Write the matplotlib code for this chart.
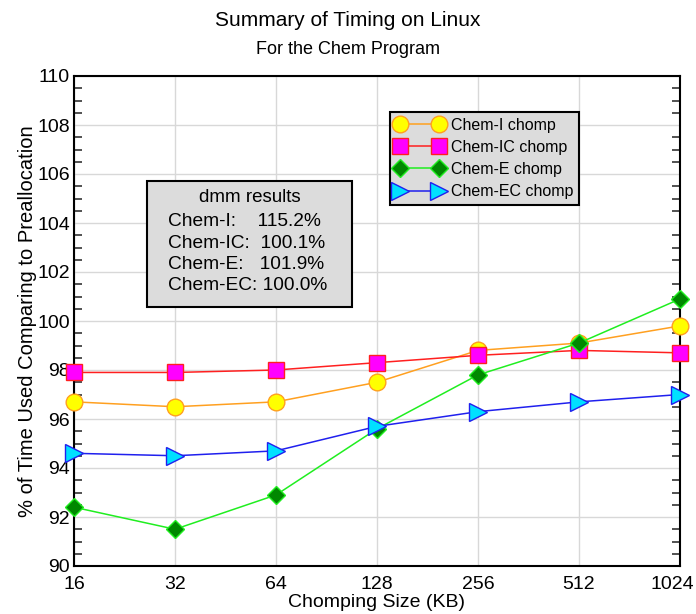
import matplotlib
matplotlib.use("Agg")
import matplotlib.pyplot as plt
import matplotlib.transforms as mtransforms
from matplotlib.ticker import MultipleLocator, FixedLocator, NullLocator

plt.rcParams['font.family'] = ['Liberation Sans', 'DejaVu Sans']

sizes = [16, 32, 64, 128, 256, 512, 1024]
chem_i = [96.7, 96.5, 96.7, 97.5, 98.8, 99.1, 99.8]
chem_ic = [97.9, 97.9, 98.0, 98.3, 98.6, 98.8, 98.7]
chem_e = [92.4, 91.5, 92.9, 95.6, 97.8, 99.1, 100.9]
chem_ec = [94.6, 94.5, 94.7, 95.7, 96.3, 96.7, 97.0]
series_labels = ["Chem-I chomp", "Chem-IC chomp", "Chem-E chomp", "Chem-EC chomp"]
dmm_lines = ["Chem-I:    115.2%", "Chem-IC:  100.1%", "Chem-E:   101.9%", "Chem-EC: 100.0%"]

fig = plt.figure(figsize=(6.96, 6.14), dpi=100)
ax = fig.add_axes([74/696, 48/614, 606/696, 490/614])

styles = [
    dict(color='#ffa020', marker='o', mfc='#ffff00', mec='#ffa020', ms=12),
    dict(color='#ff2020', marker='s', mfc='#ff00ff', mec='#ff2020', ms=11),
    dict(color='#20ee20', marker='D', mfc='#008800', mec='#20ee20', ms=9),
    dict(color='#2020ee', marker='>', mfc='#00e0ff', mec='#2020ee', ms=13),
]
for data, lab, st in zip([chem_i, chem_ic, chem_e, chem_ec], series_labels, styles):
    ax.plot(sizes, data, lw=1.1, label=lab, clip_on=False, zorder=5, mew=1.0, **st)

ax.set_xscale('log', base=2)
ax.set_xlim(16, 1024)
ax.set_ylim(90, 110)
ax.xaxis.set_major_locator(FixedLocator(sizes))
ax.set_xticklabels([str(s) for s in sizes])
ax.xaxis.set_minor_locator(NullLocator())
ax.yaxis.set_major_locator(MultipleLocator(2))
ax.yaxis.set_minor_locator(MultipleLocator(0.5))
ax.grid(True, which='major', color='#d8d8d8', lw=1.0)
ax.set_axisbelow(True)
ax.tick_params(which='major', length=0, labelsize=14)
ax.tick_params(axis='x', which='major', pad=7)
ax.tick_params(axis='y', which='major', pad=3)
ax.tick_params(axis='y', which='minor', length=6, direction='in', left=True, right=True, color='#333333', width=1.2)
for sp in ax.spines.values():
    sp.set_linewidth(1.5)

# nudge the last x tick label so it stays inside the figure
last = ax.get_xticklabels()[-1]
last.set_transform(last.get_transform() + mtransforms.ScaledTranslation(-8/100, 0, fig.dpi_scale_trans))

ax.set_xlabel("Chomping Size (KB)", fontsize=14, labelpad=1)
ax.set_ylabel("% of Time Used Comparing to Preallocation", fontsize=14.5, labelpad=0)

fig.text(0.5, 1 - 21/614, "Summary of Timing on Linux", ha='center', va='center', fontsize=15)
fig.text(0.5, 1 - 49/614, "For the Chem Program", ha='center', va='center', fontsize=13)

leg = ax.legend(loc='upper left', bbox_to_anchor=((390-74)/606, (566-112)/490), fontsize=11.5,
                frameon=True, fancybox=False, edgecolor='black', facecolor='#dcdcdc',
                framealpha=1, borderpad=0.35, labelspacing=0.45, handlelength=3.0,
                handletextpad=0.5, borderaxespad=0, numpoints=2)
leg.get_frame().set_linewidth(1.5)

# dmm results box
bx0, bx1 = (147-74)/606, (352-74)/606
by0, by1 = (566-307)/490, (566-181)/490
ax.add_patch(plt.Rectangle((bx0, by0), bx1-bx0, by1-by0, transform=ax.transAxes,
                           facecolor='#dcdcdc', edgecolor='black', lw=1.5, zorder=6))
ax.text((bx0+bx1)/2, (566-198)/490, "dmm results", transform=ax.transAxes, ha='center',
        va='center', fontsize=13.5, zorder=7)
for i, line in enumerate(dmm_lines):
    yy = (566-(222 + i*21.3))/490
    ax.text((168-74)/606, yy, line, transform=ax.transAxes, ha='left', va='center',
            fontsize=13.8, zorder=7)

fig.savefig("out.png", dpi=100)
